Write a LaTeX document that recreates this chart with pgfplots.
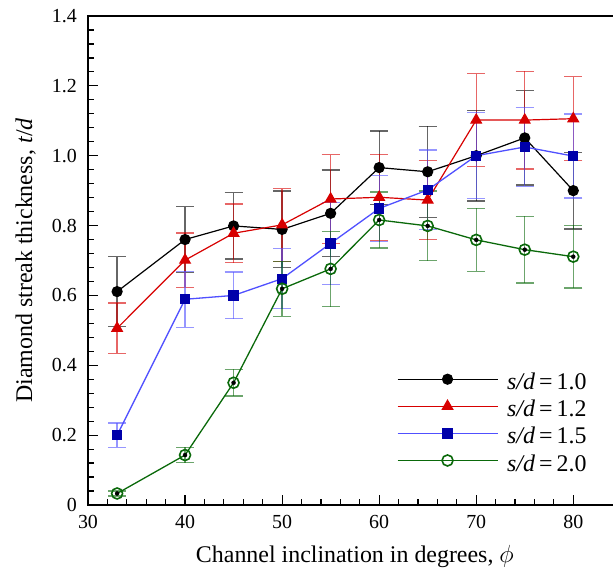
\documentclass[border=0pt]{standalone}
\usepackage{fontspec}
\setmainfont{Liberation Serif}
\usepackage{pgfplots}
\usepackage{pgfplotstable}
\pgfplotsset{compat=1.18}

\definecolor{cred}{RGB}{215,0,0}
\definecolor{cblueline}{RGB}{80,80,255}
\definecolor{cbluemark}{RGB}{0,0,170}
\definecolor{cgreen}{RGB}{10,105,10}

% s/d = 1.0
\pgfplotstableread{
x  y     e
33 0.611 0.100
40 0.760 0.094
45 0.799 0.095
50 0.789 0.110
55 0.835 0.124
60 0.966 0.105
65 0.954 0.130
70 1.000 0.130
75 1.051 0.135
80 0.900 0.110
}\sdone
% s/d = 1.2
\pgfplotstableread{
x  y     e
33 0.506 0.072
40 0.701 0.078
45 0.778 0.084
50 0.802 0.104
55 0.876 0.127
60 0.881 0.123
65 0.873 0.113
70 1.102 0.133
75 1.102 0.140
80 1.106 0.120
}\sdtwo
% s/d = 1.5
\pgfplotstableread{
x  y     e
33 0.200 0.035
40 0.589 0.080
45 0.600 0.067
50 0.648 0.086
55 0.749 0.118
60 0.849 0.095
65 0.902 0.114
70 1.000 0.123
75 1.025 0.113
80 0.999 0.120
}\sdfive
% s/d = 2.0
\pgfplotstableread{
x  y     e
33 0.033 0.007
40 0.143 0.022
45 0.350 0.038
50 0.619 0.079
55 0.676 0.108
60 0.816 0.080
65 0.799 0.100
70 0.759 0.090
75 0.731 0.095
80 0.711 0.090
}\sdtwenty

\pgfplotsset{
  ebar/.style={forget plot, only marks, mark=none,
    error bars/.cd, y dir=both, y explicit, error mark=-,
    error bar style={line width=1.3bp, #1, opacity=0.6},
    error mark options={rotate=90, mark size=9bp, line width=1.3bp, #1, opacity=0.6}},
}

\begin{document}
\begin{tikzpicture}
\begin{axis}[
  name=ax,
  scale only axis,
  width=533.8bp, height=489bp,
  xmin=30, xmax=85, ymin=0, ymax=1.4,
  xtick={30,40,50,60,70,80},
  ytick={0,0.2,0.4,0.6,0.8,1.0,1.2,1.4},
  yticklabels={0,0.2,0.4,0.6,0.8,1.0,1.2,1.4},
  minor x tick num=4, minor y tick num=4,
  xtick pos=bottom, ytick pos=left,
  tick align=inside,
  major tick length=10bp, minor tick length=6bp,
  every tick/.style={black, line width=1.2bp},
  axis line style={line width=1.6bp},
  /pgf/number format/assume math mode=true,
  ticklabel style={font=\fontsize{20}{24}\selectfont},
  yticklabel style={inner sep=0pt, xshift=-11bp},
  xticklabel style={inner sep=0pt, yshift=-10bp},
  xlabel={Channel inclination in degrees, $\phi$},
  ylabel={Diamond streak thickness, \textit{t}/\textit{d}},
  label style={font=\fontsize{24}{28}\selectfont},
  xlabel style={at={(axis description cs:0.5,-0.1166)}, anchor=base},
  ylabel style={at={(axis description cs:-0.1049,0.5)}, anchor=base},
  legend style={draw=none, fill=none, at={(axis description cs:0.5783,0.168)},
    anchor=west, font=\fontsize{24}{28}\selectfont, row sep=9bp,
    inner sep=0pt, nodes={inner sep=0pt},
    /tikz/every odd column/.append style={column sep=9bp}},
  legend cell align=left,
  legend image code/.code={\draw[mark repeat=2,mark phase=2,#1]
    plot coordinates {(0bp,3bp) (50bp,3bp) (100bp,3bp)};},
]
\addplot[ebar=black] table[x=x, y=y, y error=e] {\sdone};
\addplot[ebar=cred] table[x=x, y=y, y error=e] {\sdtwo};
\addplot[ebar=cblueline] table[x=x, y=y, y error=e] {\sdfive};
\addplot[ebar=cgreen] table[x=x, y=y, y error=e] {\sdtwenty};

\addplot[black, line width=1.2bp, mark=*, mark size=5bp,
  mark options={solid, fill=black}] table[x=x, y=y] {\sdone};
\addlegendentry{\textit{s/d}\,=\,1.0}
\addplot[cred, line width=1.2bp, mark=triangle*, mark size=6bp,
  mark options={solid, fill=cred}] table[x=x, y=y] {\sdtwo};
\addlegendentry{\textit{s/d}\,=\,1.2}
\addplot[cblueline, line width=1.3bp, mark=square*, mark size=4.5bp,
  mark options={solid, draw=cbluemark, fill=cbluemark}] table[x=x, y=y] {\sdfive};
\addlegendentry{\textit{s/d}\,=\,1.5}
\addplot[cgreen, line width=1.3bp, mark=o, mark size=5.5bp,
  mark options={solid, line width=1.6bp}] table[x=x, y=y] {\sdtwenty};
\addlegendentry{\textit{s/d}\,=\,2.0}
\end{axis}
\pgfresetboundingbox
\useasboundingbox ([xshift=-88bp,yshift=-64bp]ax.south west)
  rectangle ([xshift=525bp,yshift=505bp]ax.south west);
\end{tikzpicture}
\end{document}
